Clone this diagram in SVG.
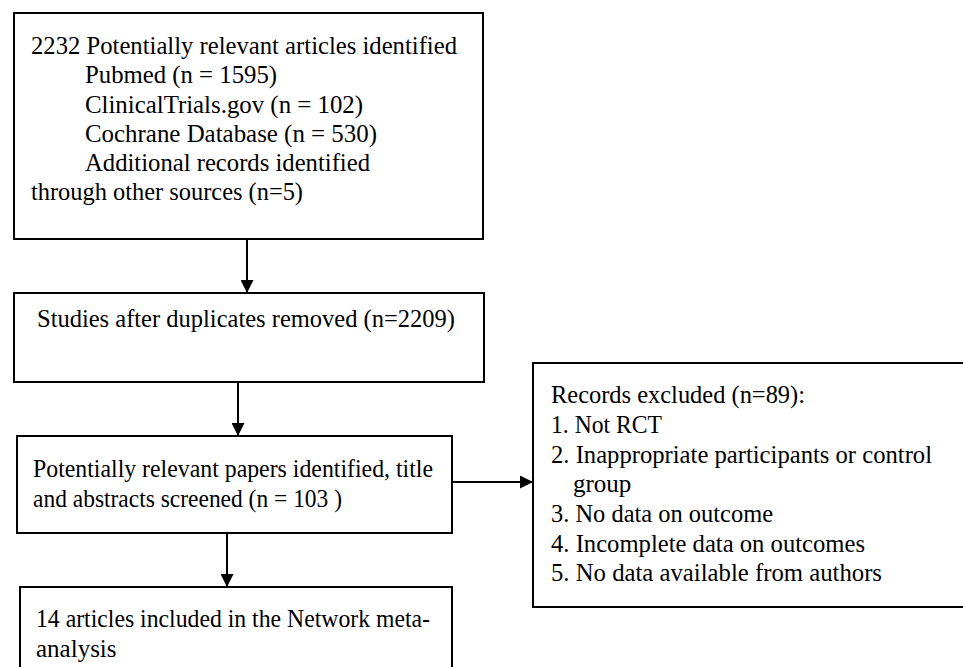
<svg xmlns="http://www.w3.org/2000/svg" width="963" height="667" viewBox="0 0 963 667">
<style>
.box{fill:#fff;stroke:#000;stroke-width:2}
text{font-family:"Liberation Serif","Times New Roman",serif;font-size:25px;fill:#000}
.edge{stroke:#000;stroke-width:2;fill:none;marker-end:url(#ah)}
</style>
<defs>
<marker id="ah" viewBox="0 0 10 10" refX="10" refY="5" markerWidth="6.5" markerHeight="6.5" markerUnits="strokeWidth" orient="auto">
<path d="M0,0 L10,5 L0,10 z" fill="#000"/>
</marker>
</defs>
<rect width="963" height="667" fill="#fff"/>
<g id="n1">
<rect class="box" x="14" y="13" width="469" height="226"/>
<text x="31" y="54" textLength="426" lengthAdjust="spacingAndGlyphs">2232 Potentially relevant articles identified</text>
<text x="85" y="83" textLength="192" lengthAdjust="spacingAndGlyphs">Pubmed (n = 1595)</text>
<text x="85" y="113" textLength="278" lengthAdjust="spacingAndGlyphs">ClinicalTrials.gov (n = 102)</text>
<text x="85" y="142" textLength="292" lengthAdjust="spacingAndGlyphs">Cochrane Database (n = 530)</text>
<text x="85" y="171" textLength="285" lengthAdjust="spacingAndGlyphs">Additional records identified</text>
<text x="31" y="200" textLength="272" lengthAdjust="spacingAndGlyphs">through other sources (n=5)</text>
</g>
<g id="n2">
<rect class="box" x="14" y="293" width="470" height="89"/>
<text x="37" y="327" textLength="418" lengthAdjust="spacingAndGlyphs">Studies after duplicates removed (n=2209)</text>
</g>
<g id="n3">
<rect class="box" x="17" y="436" width="435" height="97"/>
<text x="33" y="477" textLength="400" lengthAdjust="spacingAndGlyphs">Potentially relevant papers identified, title</text>
<text x="33" y="507" textLength="309" lengthAdjust="spacingAndGlyphs">and abstracts screened  (n = 103 )</text>
</g>
<g id="n4">
<rect class="box" x="20" y="587" width="432" height="100"/>
<text x="36" y="627" textLength="394" lengthAdjust="spacingAndGlyphs">14 articles included in the  Network meta-</text>
<text x="36" y="657">analysis</text>
</g>
<g id="n5">
<rect class="box" x="533" y="363" width="440" height="244"/>
<text x="551" y="403" textLength="254" lengthAdjust="spacingAndGlyphs">Records excluded (n=89):</text>
<text x="551" y="433" textLength="111" lengthAdjust="spacingAndGlyphs">1. Not RCT</text>
<text x="551" y="463" textLength="381" lengthAdjust="spacingAndGlyphs">2. Inappropriate participants or control</text>
<text x="573" y="492">group</text>
<text x="551" y="522" textLength="222" lengthAdjust="spacingAndGlyphs">3. No data on outcome</text>
<text x="551" y="552" textLength="314" lengthAdjust="spacingAndGlyphs">4. Incomplete data on outcomes</text>
<text x="551" y="581" textLength="331" lengthAdjust="spacingAndGlyphs">5. No data available from authors</text>
</g>
<g id="edges">
<line class="edge" x1="247" y1="239" x2="247" y2="293"/>
<line class="edge" x1="238" y1="382" x2="238" y2="436"/>
<line class="edge" x1="227" y1="533" x2="227" y2="587"/>
<line class="edge" x1="452" y1="482" x2="533" y2="482"/>
</g>
</svg>
